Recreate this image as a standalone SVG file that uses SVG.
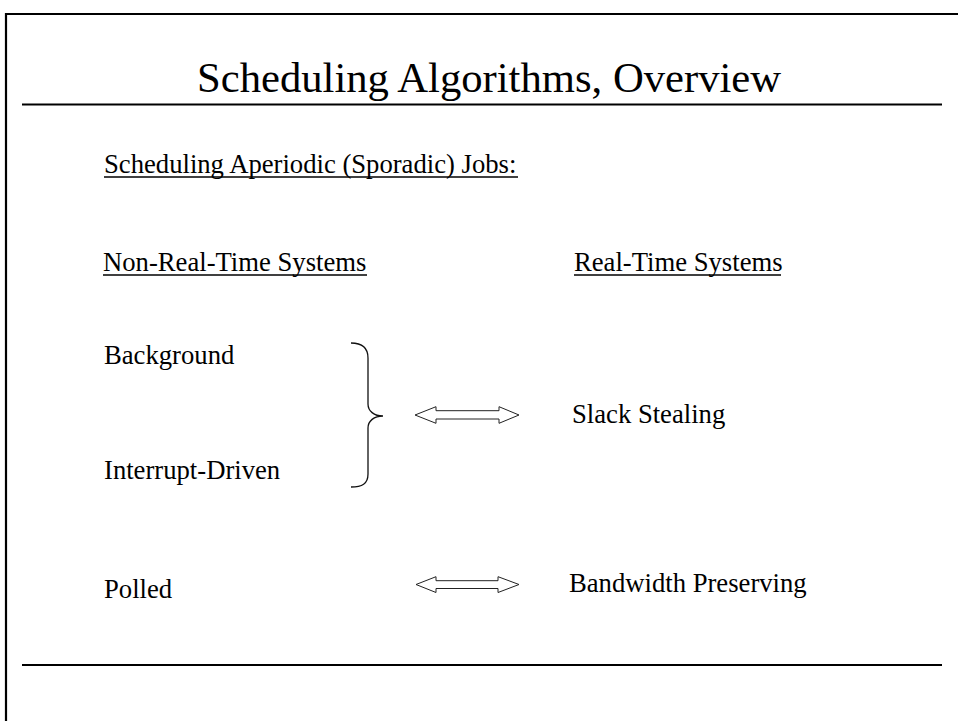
<svg xmlns="http://www.w3.org/2000/svg" width="958" height="721" viewBox="0 0 958 721">
<style>
text{font-family:"Liberation Serif","Times New Roman",serif;fill:#000}
.t{font-size:26.67px}
.rule{stroke:#000;stroke-width:2.2;fill:none}
.ul{stroke:#000;stroke-width:1.6}
.arrow{fill:#fff;stroke:#222;stroke-width:1}
.brace{fill:none;stroke:#111;stroke-width:1.3}
</style>
<rect width="958" height="721" fill="#fff"/>
<g id="frame">
<path class="rule" d="M6 721 V14 H958"/>
<line class="rule" x1="22" y1="104.5" x2="942" y2="104.5"/>
<line class="rule" x1="22" y1="665" x2="942" y2="665"/>
</g>
<g id="title"><text x="197" y="92" font-size="42.67">Scheduling Algorithms, Overview</text></g>
<g id="subtitle"><text class="t" x="104" y="173">Scheduling Aperiodic (Sporadic) Jobs:</text><line class="ul" x1="104" y1="177" x2="518" y2="177"/></g>
<g id="hdr-nrt"><text class="t" x="103" y="271">Non-Real-Time Systems</text><line class="ul" x1="103" y1="275" x2="367" y2="275"/></g>
<g id="hdr-rt"><text class="t" x="574" y="271">Real-Time Systems</text><line class="ul" x1="574" y1="275" x2="781" y2="275"/></g>
<g id="background"><text class="t" x="104" y="364">Background</text></g>
<g id="interrupt"><text class="t" x="104" y="479">Interrupt-Driven</text></g>
<g id="polled"><text class="t" x="104" y="598">Polled</text></g>
<g id="slack"><text class="t" x="572" y="422.5">Slack Stealing</text></g>
<g id="bandwidth"><text class="t" x="569" y="592">Bandwidth Preserving</text></g>
<g id="connectors">
<path class="brace" d="M351 343 C362 343 368 348 368 358 L368 404 C368 411 374 416 383 416 C374 416 368 421 368 428 L368 474 C368 484 362 487 351 487"/>
<polygon class="arrow" points="415,415 436,406.7 436,410.7 499,410.7 499,406.7 519,415 499,423.3 499,419 436,419 436,423.3"/>
<polygon class="arrow" points="416,584.5 436,576.7 436,580.7 498,580.7 498,576.7 519,584.5 498,592.5 498,588.5 436,588.5 436,592.5"/>
</g>
</svg>
